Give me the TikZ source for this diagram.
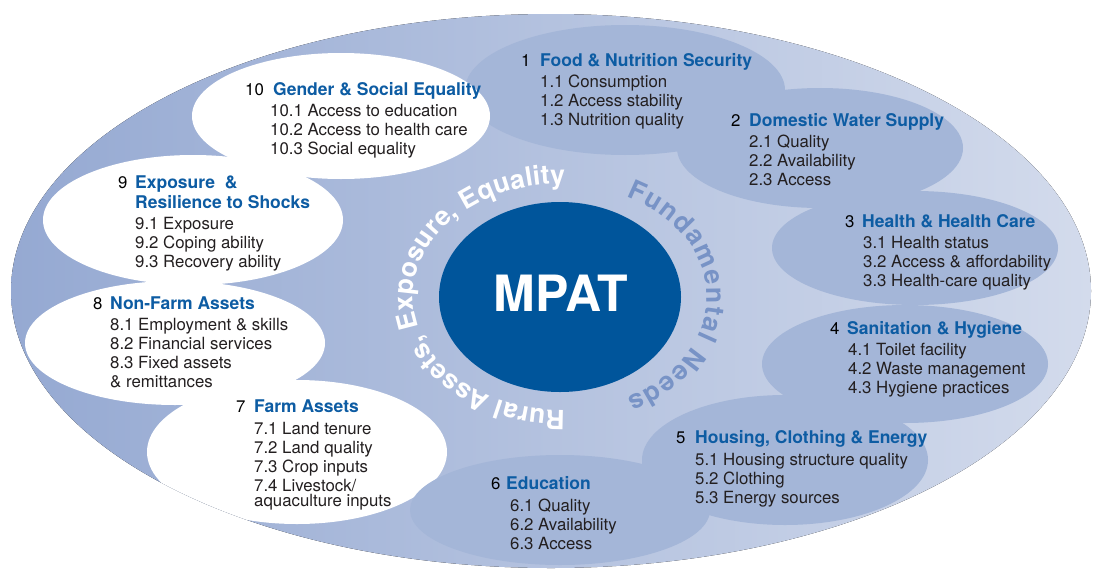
\documentclass[tikz,border=0pt]{standalone}
\usepackage{fontspec}
\setmainfont{TeX Gyre Heros}
\usetikzlibrary{decorations.text}
\definecolor{outL}{HTML}{95A9D2}
\definecolor{outR}{HTML}{D3DBEC}
\definecolor{blobB}{HTML}{A4B6D8}
\definecolor{mpatB}{HTML}{00559B}
\definecolor{hblue}{HTML}{0D5CA3}
\definecolor{txt}{HTML}{231F20}
\definecolor{ringB}{HTML}{7893C6}
\newcommand\itemsat[4]{%
  \foreach \t [count=\i from 0] in {#4} \node[itm] (#1\i) at (#2,#3+19*\i) {\t};}
\begin{document}
\begin{tikzpicture}[x=1pt,y=-1pt,
  itm/.style={anchor=base west, inner sep=0pt, text=txt, font=\fontsize{16.8}{19}\selectfont},
  head/.style={anchor=base west, inner sep=0pt, text=hblue, font=\bfseries\fontsize{17.5}{20}\selectfont},
  num/.style={anchor=base west, inner sep=0pt, text=black, font=\fontsize{16.8}{19}\selectfont},
  bluebl/.style={fill=blobB},
  whitebl/.style={fill=white},
]
\useasboundingbox (0,0) rectangle (1094,570);
\fill[left color=outL, right color=outR] (551,291) ellipse [x radius=540, y radius=277];
\begin{scope}
\clip (551,291) ellipse [x radius=540, y radius=277];
% blue blobs
\fill[bluebl] (625,90) ellipse [x radius=160, y radius=65];
\fill[bluebl] (820,148) ellipse [x radius=143, y radius=60];
\fill[bluebl] (915,248) ellipse [x radius=143, y radius=57];
\fill[bluebl] (905,364) ellipse [x radius=143, y radius=59];
\fill[bluebl] (785,460) ellipse [x radius=143, y radius=65];
% white blobs
\fill[whitebl] (341,116) ellipse [x radius=149, y radius=63];
\fill[whitebl] (193,220) ellipse [x radius=150, y radius=65];
\fill[whitebl] (175,343) ellipse [x radius=150, y radius=62];
\fill[whitebl] (297,452) ellipse [x radius=150, y radius=72];
\fill[bluebl] (560,510) ellipse [x radius=150, y radius=55];
\end{scope}
% centre
\fill[mpatB] (560,297) ellipse [x radius=121, y radius=95];
\node[inner sep=0pt, text=white, font=\bfseries\fontsize{50}{50}\selectfont] (mpat) at (561,293.5) {MPAT};
% ring texts
\path[decorate, decoration={text along path, text align={fit to path},
  text={|\fontsize{26.5}{26.5}\selectfont\bfseries\color{white}|Rural Assets, Exposure, Equality}}]
  (560,297) ++(88:147 and 113) arc [start angle=88, end angle=272, x radius=147, y radius=113];
\path[decorate, decoration={text along path, text align={fit to path},
  text={|\fontsize{26.5}{26.5}\selectfont\bfseries\color{ringB}|Fundamental Needs}}]
  (560,297) ++(-63:147 and 113) arc [start angle=-63, end angle=63, x radius=147, y radius=113];
% 1
\node[num] (n1) at (521,66.5) {1};
\node[head] (h1) at (540,66.5) {Food \& Nutrition Security};
\itemsat{a}{540}{87}{1.1 Consumption,1.2 Access stability,1.3 Nutrition quality}
% 2
\node[num] (n2) at (731,126.5) {2};
\node[head] (h2) at (749,126.5) {Domestic Water Supply};
\itemsat{b}{749}{147}{2.1 Quality,2.2 Availability,2.3 Access}
% 3
\node[num] (n3) at (845,227.5) {3};
\node[head] (h3) at (862,227.5) {Health \& Health Care};
\itemsat{c}{863}{248}{3.1 Health status,3.2 Access \& affordability,3.3 Health-care quality}
% 4
\node[num] (n4) at (830,334.5) {4};
\node[head] (h4) at (847,334.5) {Sanitation \& Hygiene};
\itemsat{d}{848}{355}{4.1 Toilet facility,4.2 Waste management,4.3 Hygiene practices}
% 5
\node[num] (n5) at (676,443.5) {5};
\node[head] (h5) at (695,443.5) {Housing, Clothing \& Energy};
\itemsat{e}{695}{465}{5.1 Housing structure quality,5.2 Clothing,5.3 Energy sources}
% 6
\node[num] (n6) at (491,489.5) {6};
\node[head] (h6) at (506,489.5) {Education};
\itemsat{f}{510}{511}{6.1 Quality,6.2 Availability,6.3 Access}
% 7
\node[num] (n7) at (236,412.5) {7};
\node[head] (h7) at (254,412.5) {Farm Assets};
\itemsat{g}{254}{434}{7.1 Land tenure,7.2 Land quality,7.3 Crop inputs,7.4 Livestock/}
\node[itm] (g4) at (254,506) {aquaculture inputs};
% 8
\node[num] (n8) at (93,309.5) {8};
\node[head] (h8) at (110,309.5) {Non-Farm Assets};
\itemsat{k}{110}{330}{8.1 Employment \& skills,8.2 Financial services,8.3 Fixed assets,\& remittances}
% 9
\node[num] (n9) at (118,188.5) {9};
\node[head] (h9) at (135,188.5) {Exposure \ \&};
\node[head] (h9b) at (135,208.5) {Resilience to Shocks};
\itemsat{m}{135}{229}{9.1 Exposure,9.2 Coping ability,9.3 Recovery ability}
% 10
\node[num] (n10) at (245,95.5) {10};
\node[head] (h10) at (273,95.5) {Gender \& Social Equality};
\itemsat{p}{270}{116}{10.1 Access to education,10.2 Access to health care,10.3 Social equality}
\end{tikzpicture}
\end{document}
